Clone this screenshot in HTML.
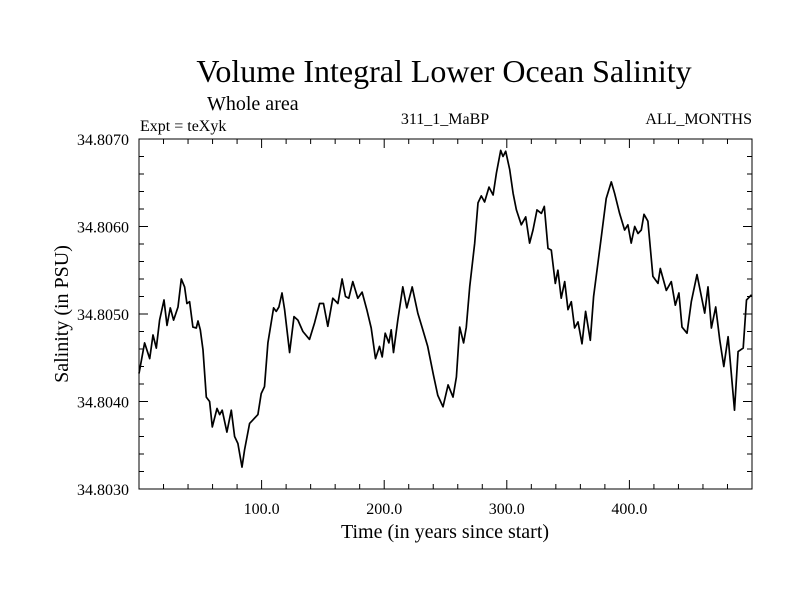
<!DOCTYPE html>
<html><head><meta charset="utf-8"><style>
body{margin:0;background:#fff}
svg{display:block;font-family:"Liberation Serif",serif}
</style></head><body>
<svg id="chart" width="800" height="600" viewBox="0 0 800 600">
<rect width="800" height="600" fill="#fff"/>
<text x="444" y="82" text-anchor="middle" font-size="32">Volume Integral Lower Ocean Salinity</text>
<text x="207" y="110" font-size="20">Whole area</text>
<text x="140" y="131" font-size="16">Expt = teXyk</text>
<text x="445" y="124" text-anchor="middle" font-size="16">311_1_MaBP</text>
<text x="752" y="124" text-anchor="end" font-size="16">ALL_MONTHS</text>
<text x="445" y="538" text-anchor="middle" font-size="20">Time (in years since start)</text>
<text transform="translate(68,314) rotate(-90)" text-anchor="middle" font-size="20">Salinity (in PSU)</text>
<g id="axes"></g>
<path id="line" fill="none" stroke="#000" stroke-width="1.7" stroke-linejoin="round"/>
<rect x="139" y="139" width="613" height="350" fill="none" stroke="#000" stroke-width="1"/>
</svg>
<script>
const years=[0,4.6,8.7,11.4,14.1,16.8,20.4,22.8,25.5,28.2,31.8,34.5,37.2,39.1,41.3,44,46.7,48.1,50,52.2,54.9,57.6,59.8,63.6,65.8,67.9,71.7,75.3,78,80.7,84,86.1,90.2,92.9,97,99.7,102.4,105.1,109.8,111.9,114.1,116.6,118.8,122.8,126.4,129.6,133.7,139.1,143.2,147.3,150.5,154,158.1,162.2,165.7,168.4,171.1,174.4,178.5,182,185.8,189.4,192.9,196.2,198.4,200.8,203.8,205.7,207.6,211.1,215.2,218.4,222.8,227.4,231.5,235.5,240.2,243.7,248,252.1,256.1,258.9,261.6,264.8,267,269.7,273.8,276.5,279.2,281.9,285.5,288.8,291.5,295,296.9,299.1,302.4,305.1,307.8,311.8,315.4,318.6,321.4,324.6,328.2,330.6,333.6,336.3,339.6,341.7,344.4,347.2,349.9,352.6,355.3,358.1,361.3,364.3,368.1,370.8,374.3,377.1,381.1,385.2,387.9,392,396.1,398.8,401.5,404.3,407,409.7,411.9,415.1,419.2,423.3,425.2,430.1,434.2,437.4,440.4,442.9,447,450.5,455.1,458.7,461.4,464.1,466.9,470.4,473.7,477,480.5,485.7,488.7,492.8,495.5,499.6];
const salinity=[34.80432,34.80467,34.80449,34.80476,34.80461,34.80493,34.80516,34.80487,34.80507,34.80493,34.80508,34.8054,34.80531,34.80512,34.80514,34.80485,34.80484,34.80492,34.80482,34.80459,34.80405,34.804,34.80371,34.80392,34.80385,34.8039,34.80365,34.8039,34.8036,34.80352,34.80325,34.80345,34.80375,34.80379,34.80385,34.80409,34.80417,34.80467,34.80507,34.80503,34.80508,34.80524,34.80505,34.80456,34.80497,34.80493,34.8048,34.80471,34.8049,34.80512,34.80512,34.80486,34.80518,34.80512,34.8054,34.8052,34.80518,34.80537,34.80518,34.80525,34.80505,34.80484,34.80449,34.80463,34.80451,34.80478,34.80467,34.80482,34.80456,34.80493,34.80531,34.80507,34.80531,34.80501,34.80482,34.80463,34.8043,34.80407,34.80394,34.80419,34.80405,34.80428,34.80485,34.80467,34.80485,34.80531,34.80581,34.80627,34.80635,34.80628,34.80645,34.80636,34.80661,34.80687,34.8068,34.80686,34.80665,34.80638,34.80619,34.80602,34.80611,34.80581,34.80596,34.80619,34.80615,34.80623,34.80575,34.80573,34.80535,34.8055,34.80518,34.80537,34.80505,34.80514,34.80484,34.80491,34.80466,34.80503,34.8047,34.8052,34.80558,34.80588,34.80632,34.80651,34.80638,34.80615,34.80596,34.80602,34.80581,34.806,34.80592,34.80596,34.80614,34.80606,34.80543,34.80535,34.80552,34.80527,34.80537,34.8051,34.80524,34.80485,34.80478,34.80514,34.80545,34.8052,34.80501,34.80531,34.80484,34.80508,34.8047,34.8044,34.80474,34.8039,34.80457,34.80461,34.80516,34.80522];
const xTickLabels=["100.0","200.0","300.0","400.0"];
const xTickValues=[100,200,300,400];
const yTickLabels=["34.8030","34.8040","34.8050","34.8060","34.8070"];
const yTickValues=[34.803,34.804,34.805,34.806,34.807];
const X0=139,X1=752,Y0=489,Y1=139,XMIN=0,XMAX=500,YMIN=34.803,YMAX=34.807;
const sx=v=>X0+(v-XMIN)/(XMAX-XMIN)*(X1-X0);
const sy=v=>Y0-(v-YMIN)/(YMAX-YMIN)*(Y0-Y1);
const NS="http://www.w3.org/2000/svg";
const axes=document.getElementById('axes');
function ln(x1,y1,x2,y2,name){const l=document.createElementNS(NS,'line');l.setAttribute('x1',x1);l.setAttribute('y1',y1);l.setAttribute('x2',x2);l.setAttribute('y2',y2);l.setAttribute('stroke','#000');l.setAttribute('stroke-width','1');


axes.appendChild(l);}
function tx(x,y,s,anchor,name){const t=document.createElementNS(NS,'text');t.setAttribute('x',x);t.setAttribute('y',y);t.setAttribute('font-size','16');t.setAttribute('text-anchor',anchor);t.textContent=s;


axes.appendChild(t);}
for(let v=20;v<XMAX;v+=20){const x=sx(v);const maj=v%100===0;const L=maj?9:5;ln(x,Y0,x,Y0-L,'x-tick');ln(x,Y1,x,Y1+L,'x-tick-top');}
for(let i=1;i<20;i++){const v=YMIN+i*0.0002;const y=sy(v);const maj=i%5===0;const L=maj?9:5;ln(X0,y,X0+L,y,'y-tick');ln(X1,y,X1-L,y,'y-tick-right');}
xTickValues.forEach((v,i)=>tx(sx(v),514,xTickLabels[i],'middle','x-tick-label'));
yTickValues.forEach((v,i)=>tx(129,sy(v)+6,yTickLabels[i],'end','y-tick-label'));
document.getElementById('line').setAttribute('d',years.map((v,i)=>(i?'L':'M')+sx(v).toFixed(1)+','+sy(salinity[i]).toFixed(1)).join(''));
</script>
</body></html>
